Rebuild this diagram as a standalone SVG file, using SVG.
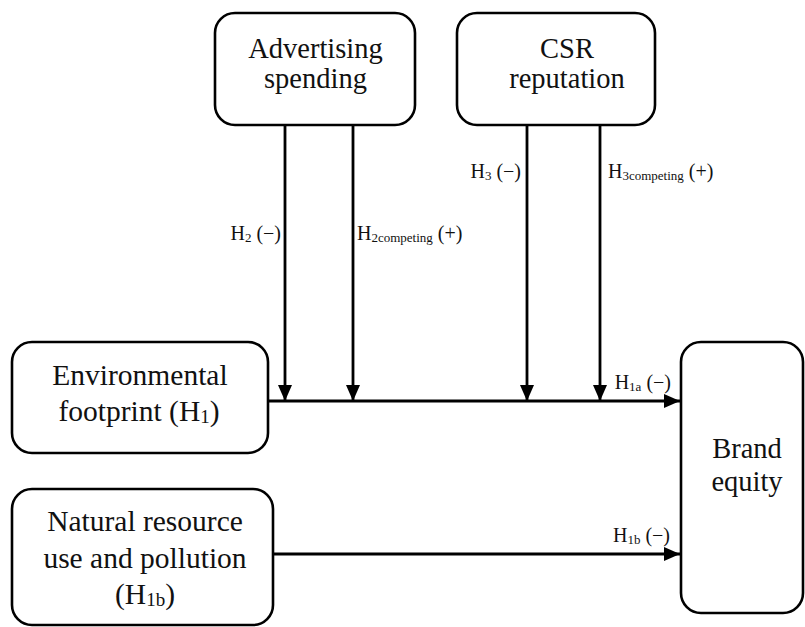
<svg xmlns="http://www.w3.org/2000/svg" width="805" height="627" viewBox="0 0 805 627">
<defs>
<marker id="ah" viewBox="0 0 16 14" refX="16" refY="7" markerWidth="16" markerHeight="14" markerUnits="userSpaceOnUse" orient="auto">
<path d="M0,0 L16,7 L0,14 Z" fill="#000"/>
</marker>
</defs>
<style>
text{font-family:"Liberation Serif","Times New Roman",serif;fill:#111}
.box{fill:#fff;stroke:#000;stroke-width:2.6}
.t{font-size:28.5px;text-anchor:middle}
.tb{font-size:29.5px;text-anchor:middle}
.l{font-size:20px}
.e{text-anchor:end}
.s{font-size:13px}
.sb{font-size:19px}
.c{stroke:#000;stroke-width:2.8;fill:none}
</style>
<rect width="805" height="627" fill="#fff"/>
<g id="connectors">
<path class="c" d="M268,401 L680,401" marker-end="url(#ah)"/>
<path class="c" d="M273,554 L680,554" marker-end="url(#ah)"/>
<path class="c" d="M285,125 L285,401" marker-end="url(#ah)"/>
<path class="c" d="M353,125 L353,401" marker-end="url(#ah)"/>
<path class="c" d="M527,125 L527,401" marker-end="url(#ah)"/>
<path class="c" d="M600,125 L600,401" marker-end="url(#ah)"/>
<text class="l e" x="281" y="240">H<tspan class="s" dy="2">2</tspan><tspan dy="-2"> (−)</tspan></text>
<text class="l" x="357" y="240">H<tspan class="s" dy="2">2competing</tspan><tspan dy="-2"> (+)</tspan></text>
<text class="l e" x="521" y="178">H<tspan class="s" dy="2">3</tspan><tspan dy="-2"> (−)</tspan></text>
<text class="l" x="608" y="178">H<tspan class="s" dy="2">3competing</tspan><tspan dy="-2"> (+)</tspan></text>
<text class="l e" x="671" y="389">H<tspan class="s" dy="2">1a</tspan><tspan dy="-2"> (−)</tspan></text>
<text class="l e" x="670" y="542">H<tspan class="s" dy="2">1b</tspan><tspan dy="-2"> (−)</tspan></text>
</g>
<g id="advertising">
<rect class="box" x="215" y="13" width="200" height="112" rx="20"/>
<text class="t" x="315.5" y="58">Advertising</text>
<text class="t" x="315.5" y="88">spending</text>
</g>
<g id="csr">
<rect class="box" x="457" y="13" width="198" height="112" rx="20"/>
<text class="t" x="567" y="58">CSR</text>
<text class="t" x="567" y="88">reputation</text>
</g>
<g id="environmental">
<rect class="box" x="12" y="342" width="256" height="111" rx="20"/>
<text class="tb" x="140" y="385">Environmental</text>
<text class="tb" x="139" y="421">footprint (H<tspan class="sb" dy="2">1</tspan><tspan dy="-2">)</tspan></text>
</g>
<g id="natural">
<rect class="box" x="12" y="489" width="261" height="136" rx="20"/>
<text class="tb" x="145" y="531">Natural resource</text>
<text class="tb" x="145" y="568">use and pollution</text>
<text class="tb" x="145" y="604">(H<tspan class="sb" dy="2">1b</tspan><tspan dy="-2">)</tspan></text>
</g>
<g id="brand">
<rect class="box" x="681" y="342" width="122" height="271" rx="20"/>
<text class="t" x="747" y="458">Brand</text>
<text class="t" x="747" y="491">equity</text>
</g>
</svg>
